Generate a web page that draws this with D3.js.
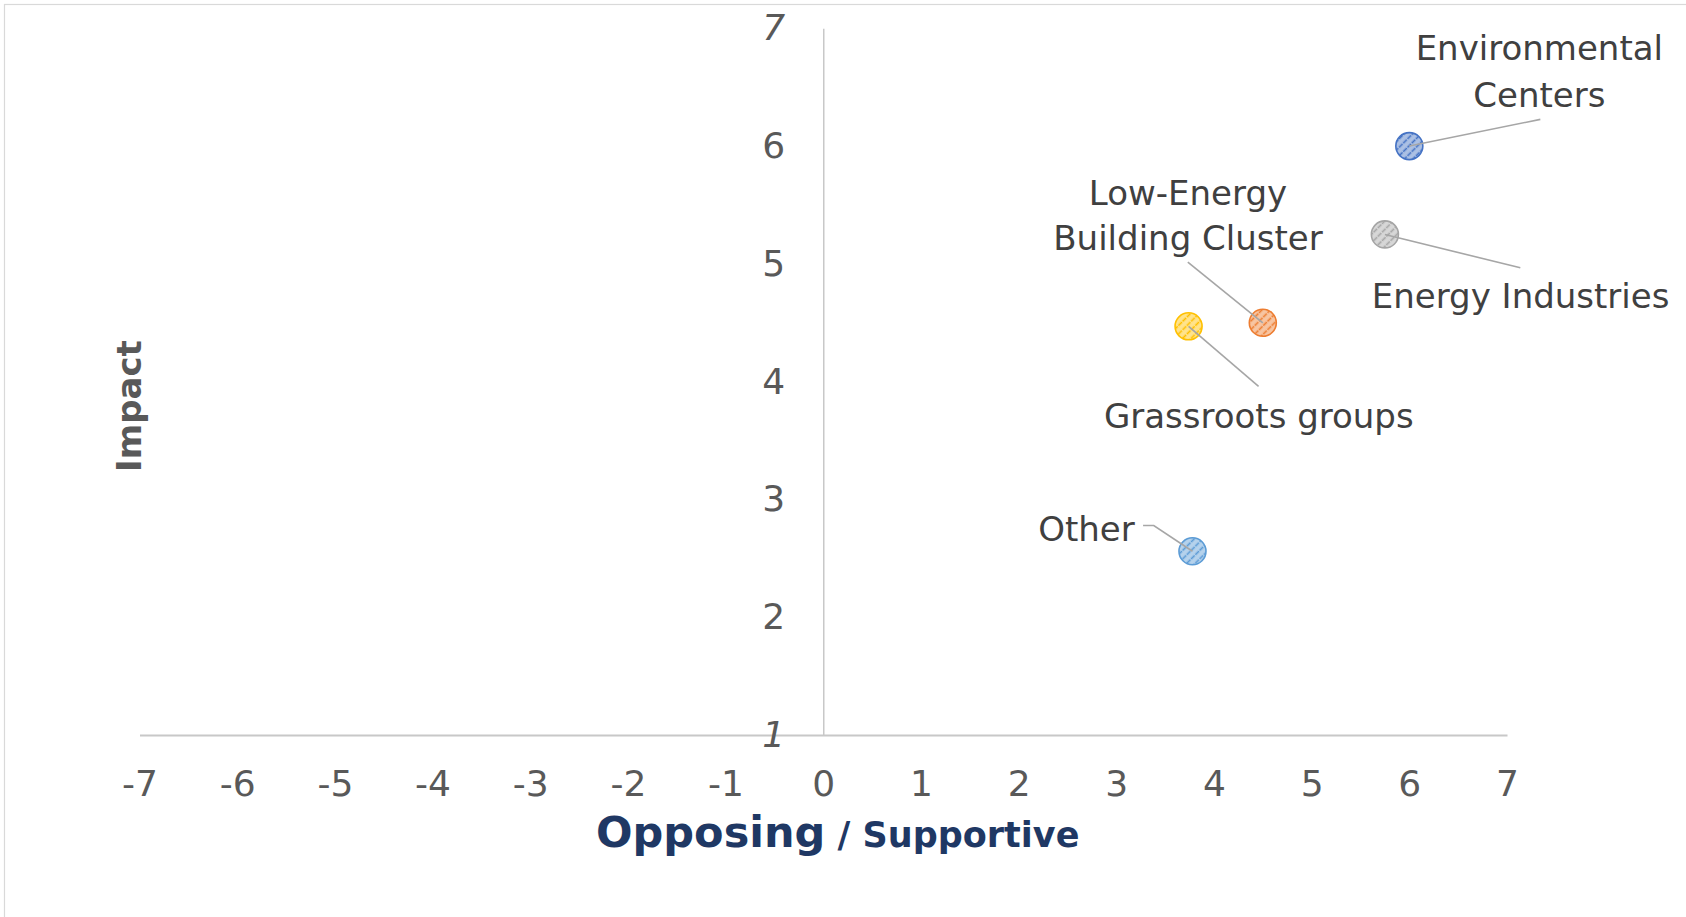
<!DOCTYPE html>
<html>
<head>
<meta charset="utf-8">
<script src="https://cdn.jsdelivr.net/npm/d3@7"></script>
<style>
  html, body { margin: 0; padding: 0; background: #ffffff; }
  svg { display: block; }
</style>
</head>
<body>
<svg id="chart" width="1686" height="917"></svg>
<script>
// ---- data ----
const names = ["Environmental Centers", "Energy Industries", "Low-Energy Building Cluster", "Grassroots groups", "Other"];
const labelLines = [["Environmental", "Centers"], ["Energy Industries"], ["Low-Energy", "Building Cluster"], ["Grassroots groups"], ["Other"]];
const supportValues = [6, 5.75, 4.5, 3.74, 3.78];
const impactValues = [6, 5.25, 4.5, 4.47, 2.56];
const xTicks = [-7, -6, -5, -4, -3, -2, -1, 0, 1, 2, 3, 4, 5, 6, 7];
const yTicks = [1, 2, 3, 4, 5, 6, 7];
const colors = ["#4472C4", "#A5A5A5", "#ED7D31", "#FFC000", "#5B9BD5"];

// ---- label layout (pixel offsets from the point) ----
const labelLayout = [
  { dx: 130, dy: [-85.7, -39], anchor: "middle", leader: [[131, -26.7]] },
  { dx: 135.7, dy: [74], anchor: "middle", leader: [[135.4, 33.4]] },
  { dx: -74.8, dy: [-118, -72.3], anchor: "middle", leader: [[-75, -60.6]] },
  { dx: 70.2, dy: [101.6], anchor: "middle", leader: [[70, 60]] },
  { dx: -57.7, dy: [-10], anchor: "end", leader: [[-49.4, -25.7], [-38.7, -25.7]] }
];

const FONT = "'DejaVu Sans', 'Liberation Sans', sans-serif";
const svg = d3.select("#chart");

// chart area border
svg.append("rect").attr("x", 4.5).attr("y", 4.5).attr("width", 1700).attr("height", 940)
  .attr("fill", "#fff").attr("stroke", "#D9D9D9").attr("stroke-width", 1.2);

const x = d3.scaleLinear().domain([-7, 7]).range([139.5, 1507]);
const y = d3.scaleLinear().domain([1, 7]).range([735, 28.3]);

// x axis
const xAxis = svg.append("g").attr("transform", `translate(0,${y(1)})`)
  .call(d3.axisBottom(x).tickValues(xTicks).tickSize(0).tickSizeOuter(0).tickPadding(35.5).tickFormat(d => String(d)));
xAxis.select(".domain").attr("stroke", "#C8C8C8").attr("stroke-width", 2);
xAxis.selectAll("text").attr("font-family", FONT).attr("font-size", 36).attr("fill", "#595959");

// y axis
const yAxis = svg.append("g").attr("transform", `translate(${x(0)},0)`)
  .call(d3.axisLeft(y).tickValues(yTicks).tickSize(0).tickSizeOuter(0).tickPadding(38).tickFormat(d => String(d)));
yAxis.select(".domain").attr("stroke", "#C8C8C8").attr("stroke-width", 1.5);
yAxis.selectAll("text").attr("font-family", FONT).attr("font-size", 36).attr("fill", "#595959")
  .attr("font-style", d => (d === 1 || d === 7) ? "italic" : "normal");

// axis titles
svg.append("text")
  .attr("transform", `translate(${141},${406}) rotate(-90)`)
  .attr("text-anchor", "middle")
  .attr("font-family", FONT).attr("font-weight", "bold").attr("font-size", 34).attr("fill", "#595959")
  .text("Impact");

const xt = svg.append("text")
  .attr("x", 596).attr("y", 847)
  .attr("font-family", FONT).attr("font-weight", "bold").attr("fill", "#1F3864");
xt.append("tspan").attr("font-size", 43).text("Opposing");
xt.append("tspan").attr("font-size", 35).text(" / Supportive");

// patterns
const defs = svg.append("defs");
colors.forEach((c, i) => {
  const p = defs.append("pattern").attr("id", "hatch" + i)
    .attr("patternUnits", "userSpaceOnUse").attr("width", 6).attr("height", 6)
    .attr("patternTransform", "rotate(45)");
  p.append("rect").attr("width", 6).attr("height", 6).attr("fill", d3.interpolateRgb("#ffffff", c)(0.45));
  p.append("line").attr("x1", 1.5).attr("y1", 0).attr("x2", 1.5).attr("y2", 6)
    .attr("stroke", c).attr("stroke-width", 1.6).attr("stroke-dasharray", "3,1");
});

const pts = names.map((n, i) => ({ name: n, lines: labelLines[i], sx: supportValues[i], iy: impactValues[i], color: colors[i], lay: labelLayout[i], i }));

// markers
svg.append("g").selectAll("circle").data(pts).join("circle")
  .attr("cx", d => x(d.sx)).attr("cy", d => y(d.iy)).attr("r", 13.5)
  .attr("fill", d => `url(#hatch${d.i})`).attr("stroke", d => d.color).attr("stroke-width", 1.6);

// leader lines
const line = d3.line();
svg.append("g").selectAll("path").data(pts).join("path")
  .attr("d", d => {
    const px = x(d.sx), py = y(d.iy);
    const p = d.lay.leader.map(o => [px + o[0], py + o[1]]);
    p.push([px, py]);
    return line(p);
  })
  .attr("fill", "none").attr("stroke", "#A6A6A6").attr("stroke-width", 1.6);

// labels
const lg = svg.append("g").selectAll("text").data(pts).join("text")
  .attr("font-family", FONT).attr("font-size", 34).attr("fill", "#404040")
  .attr("text-anchor", d => d.lay.anchor);
lg.each(function (d) {
  const t = d3.select(this);
  d.lines.forEach((s, k) => {
    t.append("tspan").attr("x", x(d.sx) + d.lay.dx).attr("y", y(d.iy) + d.lay.dy[k]).text(s);
  });
});
</script>
</body>
</html>
